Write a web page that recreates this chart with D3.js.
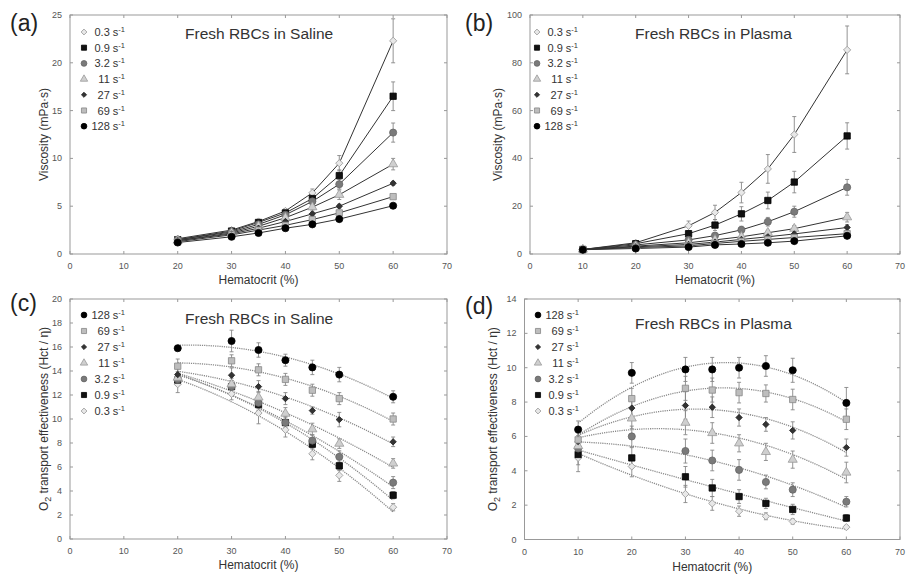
<!DOCTYPE html>
<html>
<head>
<meta charset="utf-8">
<script src="https://cdn.jsdelivr.net/npm/d3@7"></script>
<style>
  body { margin: 0; background: #fff; }
  svg { font-family: "Liberation Sans", Arial, sans-serif; }
</style>
</head>
<body>
<script>
// shear rates (s^-1); every value array below is stored in this order
var rates = ["0.3", "0.9", "3.2", "11", "27", "69", "128"];
var hctSaline = [20, 30, 35, 40, 45, 50, 60];
var hctPlasma = [10, 20, 30, 35, 40, 45, 50, 60];
var xTicks = [0, 10, 20, 30, 40, 50, 60, 70];

// (a) viscosity, saline (mPa·s)
var viscSaline = [
  [1.6, 2.5, 3.4, 4.5, 6.4, 9.5, 22.3],
  [1.5, 2.4, 3.3, 4.3, 5.8, 8.2, 16.5],
  [1.5, 2.3, 3.1, 4.1, 5.5, 7.3, 12.7],
  [1.4, 2.2, 2.9, 3.8, 4.9, 6.2, 9.4],
  [1.4, 2.1, 2.7, 3.4, 4.2, 5.0, 7.4],
  [1.3, 2.0, 2.5, 3.0, 3.6, 4.3, 6.0],
  [1.2, 1.8, 2.2, 2.7, 3.1, 3.65, 5.05]
];
var viscSalineErr = [
  [0.1, 0.15, 0.2, 0.25, 0.4, 0.8, 2.3],
  [0.1, 0.1, 0.2, 0.2, 0.3, 0.6, 1.5],
  [0.1, 0.1, 0.15, 0.2, 0.3, 0.5, 1.0],
  [0.1, 0.1, 0.1, 0.2, 0.3, 0.5, 0.6],
  [0.1, 0.1, 0.1, 0.1, 0.2, 0.2, 0.2],
  [0.1, 0.1, 0.1, 0.1, 0.1, 0.2, 0.2],
  [0.1, 0.1, 0.1, 0.1, 0.1, 0.1, 0.1]
];

// (b) viscosity, plasma (mPa·s)
var viscPlasma = [
  [1.9, 4.7, 11.8, 17.4, 25.7, 35.6, 50.0, 85.4],
  [1.9, 4.3, 8.5, 12.1, 16.8, 22.4, 30.1, 49.4],
  [1.9, 3.8, 5.9, 7.7, 10.1, 13.5, 17.7, 27.9],
  [1.9, 3.3, 4.7, 5.9, 7.2, 8.9, 10.6, 15.4],
  [1.9, 3.0, 4.0, 5.0, 6.1, 7.2, 8.4, 11.1],
  [1.8, 2.7, 3.4, 4.4, 5.3, 6.1, 6.9, 8.5],
  [1.8, 2.3, 2.9, 3.8, 4.2, 4.7, 5.4, 7.6]
];
var viscPlasmaErr = [
  [0.3, 0.8, 2.0, 3.0, 4.3, 6.0, 7.5, 10.0],
  [0.3, 0.6, 1.0, 2.3, 3.0, 3.5, 4.5, 5.5],
  [0.3, 0.5, 0.8, 1.0, 1.5, 1.8, 2.3, 3.3],
  [0.3, 0.4, 0.6, 0.8, 1.0, 1.0, 1.3, 2.0],
  [0.3, 0.3, 0.5, 0.6, 0.7, 0.8, 1.0, 1.2],
  [0.3, 0.3, 0.4, 0.5, 0.6, 0.6, 0.7, 0.9],
  [0.3, 0.3, 0.4, 0.4, 0.5, 0.5, 0.6, 0.8]
];

// (c) O2 transport effectiveness, saline (Hct / eta)
var effSaline = [
  [12.9, 12.1, 10.5, 9.1, 7.1, 5.3, 2.65],
  [13.25, 12.7, 11.2, 9.7, 7.9, 6.1, 3.65],
  [13.3, 12.7, 11.35, 9.7, 8.2, 6.85, 4.7],
  [13.45, 12.9, 11.8, 10.45, 9.15, 7.95, 6.3],
  [13.7, 13.65, 12.7, 11.7, 10.7, 9.95, 8.1],
  [14.4, 14.85, 14.1, 13.3, 12.4, 11.7, 10.0],
  [15.9, 16.5, 15.75, 14.9, 14.3, 13.7, 11.85]
];
var effSalineErr = [
  [0.7, 0.5, 0.9, 0.6, 0.5, 0.5, 0.3],
  [0.4, 0.5, 0.5, 0.4, 0.4, 0.4, 0.3],
  [0.5, 0.5, 0.5, 0.5, 0.5, 0.5, 0.5],
  [0.5, 0.5, 0.5, 0.5, 0.5, 0.4, 0.4],
  [0.5, 0.6, 0.5, 0.5, 0.3, 0.6, 0.4],
  [0.6, 0.5, 0.5, 0.5, 0.5, 0.5, 0.5],
  [0.2, 0.9, 0.6, 0.5, 0.6, 0.6, 0.5]
];

// (d) O2 transport effectiveness, plasma (Hct / eta)
var effPlasma = [
  [4.75, 4.25, 2.65, 2.1, 1.65, 1.35, 1.05, 0.72],
  [4.95, 4.75, 3.65, 3.0, 2.5, 2.1, 1.75, 1.25],
  [5.3, 6.0, 5.15, 4.6, 4.05, 3.35, 2.9, 2.2],
  [5.45, 7.05, 6.8, 6.2, 5.6, 5.1, 4.65, 3.9],
  [5.7, 7.65, 7.8, 7.7, 7.1, 6.7, 6.35, 5.35],
  [5.8, 8.2, 8.8, 8.7, 8.55, 8.5, 8.15, 7.0],
  [6.4, 9.7, 9.9, 9.9, 10.0, 10.1, 9.85, 7.95]
];
var effPlasmaErr = [
  [0.8, 0.6, 0.5, 0.4, 0.3, 0.2, 0.15, 0.1],
  [0.6, 0.6, 0.6, 0.5, 0.4, 0.3, 0.3, 0.2],
  [0.6, 0.6, 0.7, 0.6, 0.6, 0.4, 0.4, 0.3],
  [0.6, 0.6, 0.7, 0.6, 0.5, 0.5, 0.5, 0.6],
  [0.5, 0.6, 0.8, 0.6, 0.5, 0.4, 0.5, 0.5],
  [0.5, 0.6, 0.7, 0.7, 0.6, 0.5, 0.6, 0.6],
  [0.5, 0.6, 0.7, 0.7, 0.6, 0.6, 0.7, 0.9]
];

// marker look per shear rate (same order as rates)
var markers = [
  { type: "diamond", size: 26, fill: "#e8e8e8", stroke: "#9a9a9a" },
  { type: "square", size: 40, fill: "#111", stroke: "#000" },
  { type: "circle", size: 40, fill: "#7a7a7a", stroke: "#666" },
  { type: "triangle", size: 36, fill: "#cfcfcf", stroke: "#999" },
  { type: "diamond", size: 20, fill: "#333", stroke: "#222" },
  { type: "square", size: 40, fill: "#bdbdbd", stroke: "#888" },
  { type: "circle", size: 40, fill: "#000", stroke: "#000" }
];

var width = 906, height = 577;
var svg = d3.select("body").append("svg").attr("width", width).attr("height", height);

// least squares 2nd order polynomial, like a spreadsheet trendline
function quadFit(xs, ys) {
  var n = xs.length, s = [0, 0, 0, 0, 0], t = [0, 0, 0];
  for (var i = 0; i < n; i++) {
    var p = 1;
    for (var k = 0; k < 5; k++) { s[k] += p; if (k < 3) t[k] += p * ys[i]; p *= xs[i]; }
  }
  var M = [[s[0], s[1], s[2]], [s[1], s[2], s[3]], [s[2], s[3], s[4]]];
  function det(A) {
    return A[0][0] * (A[1][1] * A[2][2] - A[1][2] * A[2][1])
         - A[0][1] * (A[1][0] * A[2][2] - A[1][2] * A[2][0])
         + A[0][2] * (A[1][0] * A[2][1] - A[1][1] * A[2][0]);
  }
  var D = det(M), c = [];
  for (var j = 0; j < 3; j++) {
    var A = M.map(function (r, ri) { return r.map(function (v, ci) { return ci === j ? t[ri] : v; }); });
    c.push(det(A) / D);
  }
  return function (x) { return c[0] + c[1] * x + c[2] * x * x; };
}

function symbolPath(m, k) {
  var t = m.type === "circle" ? d3.symbolCircle : m.type === "triangle" ? d3.symbolTriangle : d3.symbolSquare;
  return d3.symbol().type(t).size(m.size * (k || 1))();
}
function addMarker(g, m, x, y, k) {
  g.append("path")
    .attr("d", symbolPath(m, k))
    .attr("transform", "translate(" + x + "," + y + ")" + (m.type === "diamond" ? " rotate(45)" : ""))
    .attr("fill", m.fill).attr("stroke", m.stroke).attr("stroke-width", 0.8);
}

var panels = [
  { tag: "(a)", tagX: 10, tagY: 31, box: [70, 447, 15, 254], x: hctSaline, ys: viscSaline, err: viscSalineErr,
    yMax: 25, yStep: 5, fit: false, title: "Fresh RBCs in Saline", titleX: 185, titleY: 39,
    legX: 84, legTextX: 125, legY: 32, legDy: 15.7, legOrder: [0, 1, 2, 3, 4, 5, 6],
    yTitle: "visc", yTitleX: 48, xTitleY: 284 },
  { tag: "(b)", tagX: 465, tagY: 31, box: [530, 900, 15, 254], x: hctPlasma, ys: viscPlasma, err: viscPlasmaErr,
    yMax: 100, yStep: 20, fit: false, title: "Fresh RBCs in Plasma", titleX: 635, titleY: 39,
    legX: 537, legTextX: 578, legY: 32, legDy: 15.7, legOrder: [0, 1, 2, 3, 4, 5, 6],
    yTitle: "visc", yTitleX: 502, xTitleY: 284 },
  { tag: "(c)", tagX: 10, tagY: 311, box: [70, 447, 299, 539], x: hctSaline, ys: effSaline, err: effSalineErr,
    yMax: 20, yStep: 2, fit: true, title: "Fresh RBCs in Saline", titleX: 185, titleY: 324,
    legX: 84, legTextX: 125, legY: 315, legDy: 16, legOrder: [6, 5, 4, 3, 2, 1, 0],
    yTitle: "eff", yTitleX: 48, xTitleY: 569 },
  { tag: "(d)", tagX: 465, tagY: 314, box: [524.5, 900, 299, 539.5], x: hctPlasma, ys: effPlasma, err: effPlasmaErr,
    yMax: 14, yStep: 2, fit: true, title: "Fresh RBCs in Plasma", titleX: 635, titleY: 329,
    legX: 538, legTextX: 579, legY: 315, legDy: 16, legOrder: [6, 5, 4, 3, 2, 1, 0],
    yTitle: "eff", yTitleX: 497, xTitleY: 571 }
];

panels.forEach(function (p) {
  var L = p.box[0], R = p.box[1], T = p.box[2], B = p.box[3];
  var xScale = d3.scaleLinear().domain([0, 70]).range([L, R]);
  var yScale = d3.scaleLinear().domain([0, p.yMax]).range([B, T]);
  var yTicks = d3.range(0, p.yMax + 0.001, p.yStep);
  var g = svg.append("g");

  // frame + inward ticks on all sides
  g.append("rect").attr("x", L).attr("y", T).attr("width", R - L).attr("height", B - T)
    .attr("fill", "none").attr("stroke", "#999").attr("stroke-width", 1);
  [[B, -1], [T, 1]].forEach(function (s) {
    g.selectAll(null).data(xTicks).enter().append("line")
      .attr("x1", function (d) { return xScale(d); }).attr("x2", function (d) { return xScale(d); })
      .attr("y1", s[0]).attr("y2", s[0] + 3 * s[1]).attr("stroke", "#999");
  });
  [[L, 1], [R, -1]].forEach(function (s) {
    g.selectAll(null).data(yTicks).enter().append("line")
      .attr("y1", function (d) { return yScale(d); }).attr("y2", function (d) { return yScale(d); })
      .attr("x1", s[0]).attr("x2", s[0] + 3 * s[1]).attr("stroke", "#999");
  });

  // tick labels
  g.selectAll(null).data(xTicks).enter().append("text")
    .attr("x", function (d) { return xScale(d); }).attr("y", B + 15)
    .attr("text-anchor", "middle").attr("font-size", 9).attr("fill", "#555").text(function (d) { return d; });
  g.selectAll(null).data(yTicks).enter().append("text")
    .attr("x", L - 8).attr("y", function (d) { return yScale(d) + 3; })
    .attr("text-anchor", "end").attr("font-size", 9).attr("fill", "#555").text(function (d) { return d; });

  // axis titles
  g.append("text").attr("x", (L + R) / 2).attr("y", p.xTitleY).attr("text-anchor", "middle")
    .attr("font-size", 12).attr("fill", "#333").text("Hematocrit (%)");
  var yt = g.append("text").attr("transform", "translate(" + p.yTitleX + "," + ((T + B) / 2) + ") rotate(-90)")
    .attr("text-anchor", "middle").attr("font-size", 12).attr("fill", "#333");
  if (p.yTitle === "visc") {
    yt.text("Viscosity (mPa·s)");
  } else {
    yt.append("tspan").text("O");
    yt.append("tspan").attr("dy", 3).attr("font-size", 9).text("2");
    yt.append("tspan").attr("dy", -3).text(" transport effectiveness (Hct / η)");
  }

  // panel tag and title
  g.append("text").attr("x", p.tagX).attr("y", p.tagY).attr("font-size", 23).attr("fill", "#222").text(p.tag);
  g.append("text").attr("x", p.titleX).attr("y", p.titleY).attr("font-size", 15.5).attr("fill", "#333").text(p.title);

  var xmin = d3.min(p.x), xmax = d3.max(p.x);

  // connecting lines or fitted curves
  p.ys.forEach(function (vals, si) {
    var pts;
    if (p.fit) {
      var f = quadFit(p.x, vals);
      pts = d3.range(xmin, xmax + 0.01, 0.5).map(function (x) { return [x, f(x)]; });
    } else {
      pts = p.x.map(function (x, i) { return [x, vals[i]]; });
    }
    var line = d3.line().x(function (d) { return xScale(d[0]); }).y(function (d) { return yScale(d[1]); });
    g.append("path").attr("d", line(pts)).attr("fill", "none")
      .attr("stroke", p.fit ? "#8a8a8a" : "#333")
      .attr("stroke-width", p.fit ? 1.3 : 1)
      .attr("stroke-dasharray", p.fit ? "1.2,1" : null);
  });

  // error bars
  p.ys.forEach(function (vals, si) {
    vals.forEach(function (v, i) {
      var e = p.err[si][i], cx = xScale(p.x[i]);
      var y1 = yScale(v - e), y2 = yScale(v + e);
      g.append("line").attr("x1", cx).attr("x2", cx).attr("y1", y1).attr("y2", y2).attr("stroke", "#888").attr("stroke-width", 0.9);
      [y1, y2].forEach(function (yy) {
        g.append("line").attr("x1", cx - 2).attr("x2", cx + 2).attr("y1", yy).attr("y2", yy).attr("stroke", "#888").attr("stroke-width", 0.9);
      });
    });
  });

  // markers
  p.ys.forEach(function (vals, si) {
    vals.forEach(function (v, i) { addMarker(g, markers[si], xScale(p.x[i]), yScale(v)); });
  });

  // legend (symbols a bit smaller than the data markers)
  p.legOrder.forEach(function (si, row) {
    var yy = p.legY + row * p.legDy;
    addMarker(g, markers[si], p.legX, yy, 0.65);
    var t = g.append("text").attr("x", p.legTextX).attr("y", yy + 4).attr("text-anchor", "end")
      .attr("font-size", 11).attr("fill", "#333");
    t.append("tspan").text(rates[si] + " s");
    t.append("tspan").attr("dy", -4).attr("font-size", 7.5).text("-1");
  });
});
</script>
</body>
</html>
